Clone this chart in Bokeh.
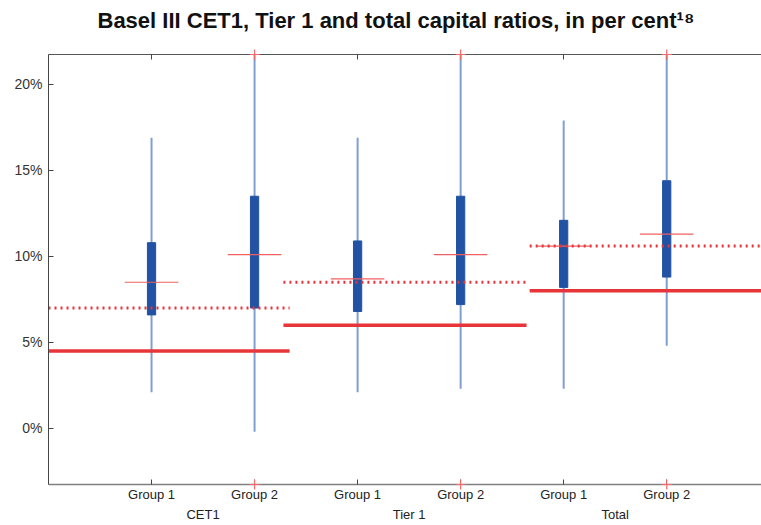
from bokeh.plotting import figure
from bokeh.models import Range1d, LinearAxis, FixedTicker, PrintfTickFormatter, Title
from bokeh.embed import file_html
from bokeh.resources import INLINE

# ---- data (per cent) ----
categories = ["CET1", "Tier 1", "Total"]
groups = ["Group 1", "Group 2"]
positions = [1, 2, 3, 4, 5, 6]
box_labels = ["Group 1", "Group 2", "Group 1", "Group 2", "Group 1", "Group 2"]
whisker_low = [2.1, -0.2, 2.1, 2.3, 2.3, 4.8]
whisker_high = [16.9, 21.74, 16.9, 21.74, 17.9, 21.74]
q1 = [6.6, 7.0, 6.8, 7.2, 8.2, 8.8]
q3 = [10.8, 13.5, 10.9, 13.5, 12.1, 14.4]
medians = [8.5, 10.1, 8.7, 10.1, 10.6, 11.3]
outlier_pos = [2, 4, 6]
outliers_top = [21.74, 21.74, 21.74]
outliers_bottom = [-3.26, -3.26, -3.26]
# regulatory minimum (solid) and minimum + conservation buffer (dotted)
req_start = [0.0, 2.28, 4.67]
req_end = [2.34, 4.64, 7.0]
minimum = [4.5, 6.0, 8.0]
with_buffer = [7.0, 8.5, 10.6]
y_ticks = [0, 5, 10, 15, 20]
title_text = "Basel III CET1, Tier 1 and total capital ratios, in per cent\u00b9\u2078"

Y0, Y1 = -3.26, 21.74
W, H = 761, 525
BL, BT, BB = 48, 54, 41
p = figure(width=W, height=H, x_range=Range1d(0, 6.92), y_range=Range1d(Y0, Y1),
           output_backend="svg", toolbar_location=None,
           x_axis_location=None, y_axis_location=None,
           min_border_left=BL, min_border_right=0, min_border_top=BT, min_border_bottom=BB)
p.outline_line_color = None
p.xgrid.visible = False
p.ygrid.visible = False
p.background_fill_color = "white"
p.border_fill_color = "white"

FONT = "Liberation Sans"

# left axis
ya = LinearAxis(ticker=FixedTicker(ticks=y_ticks), formatter=PrintfTickFormatter(format="%d%%"))
ya.major_tick_in = 5
ya.major_tick_out = 0
ya.minor_tick_line_color = None
ya.axis_line_color = "#444444"
ya.major_tick_line_color = "#444444"
ya.major_label_text_font = FONT
ya.major_label_text_font_size = "14px"
ya.major_label_text_color = "#333333"
ya.major_label_standoff = 6
p.add_layout(ya, "left")

# bottom axis with group labels
xa = LinearAxis(ticker=FixedTicker(ticks=positions),
                major_label_overrides={pos: lab for pos, lab in zip(positions, box_labels)})
xa.major_tick_in = 5
xa.major_tick_out = 0
xa.minor_tick_line_color = None
xa.axis_line_color = "#808080"
xa.axis_line_width = 1.5
xa.major_tick_line_color = "#444444"
xa.major_label_text_font = FONT
xa.major_label_text_font_size = "13px"
xa.major_label_text_color = "#222222"
xa.major_label_standoff = 2
p.add_layout(xa, "below")

# second bottom axis with category labels
cat_pos = [1.5, 3.5, 5.5]
xa2 = LinearAxis(ticker=FixedTicker(ticks=cat_pos),
                 major_label_overrides={pos: lab for pos, lab in zip(cat_pos, categories)})
xa2.axis_line_color = None
xa2.major_tick_line_color = None
xa2.minor_tick_line_color = None
xa2.major_tick_in = 0
xa2.major_tick_out = 0
xa2.major_label_text_font = FONT
xa2.major_label_text_font_size = "13px"
xa2.major_label_text_color = "#222222"
xa2.major_label_standoff = 2
p.add_layout(xa2, "below")

# top axis (frame line with inward ticks)
ta = LinearAxis(ticker=FixedTicker(ticks=positions),
                major_label_overrides={pos: "" for pos in positions})
ta.major_tick_in = 5
ta.major_tick_out = 0
ta.minor_tick_line_color = None
ta.axis_line_color = "#555555"
ta.major_tick_line_color = "#444444"
ta.major_label_text_font_size = "1px"
ta.major_label_standoff = 0
p.add_layout(ta, "above")

# blank spacer between frame and title
p.add_layout(Title(text=" ", standoff=9, text_font_size="10px"), "above")
# title
p.add_layout(Title(text=title_text, align="left", offset=49, standoff=0,
                   text_font=FONT, text_font_style="bold", text_font_size="22px",
                   text_color="#111111"), "above")

# whiskers
p.segment(x0=positions, y0=whisker_low, x1=positions, y1=whisker_high,
          line_color="#7f9fd3", line_width=2)
# boxes
p.vbar(x=positions, bottom=q1, top=q3, width=0.08,
       fill_color="#2152a3", line_color="#2152a3")
# medians
p.segment(x0=[x - 0.26 for x in positions], y0=medians,
          x1=[x + 0.26 for x in positions], y1=medians,
          line_color="#f06060", line_width=1.2)
# regulatory thresholds
p.segment(x0=req_start, y0=minimum, x1=req_end, y1=minimum,
          line_color="#e8353a", line_width=3.5)
p.segment(x0=req_start, y0=with_buffer, x1=req_end, y1=with_buffer,
          line_color="#e8353a", line_width=3, line_dash="2 4")
# outliers at the axis limits
p.scatter(x=outlier_pos, y=outliers_top, marker="cross", size=10,
          line_color="#f26b6b", line_width=1.2, level="overlay")
p.scatter(x=outlier_pos, y=outliers_bottom, marker="cross", size=10,
          line_color="#f26b6b", line_width=1.2, level="overlay")

open("out.html", "w").write(file_html(p, INLINE))
